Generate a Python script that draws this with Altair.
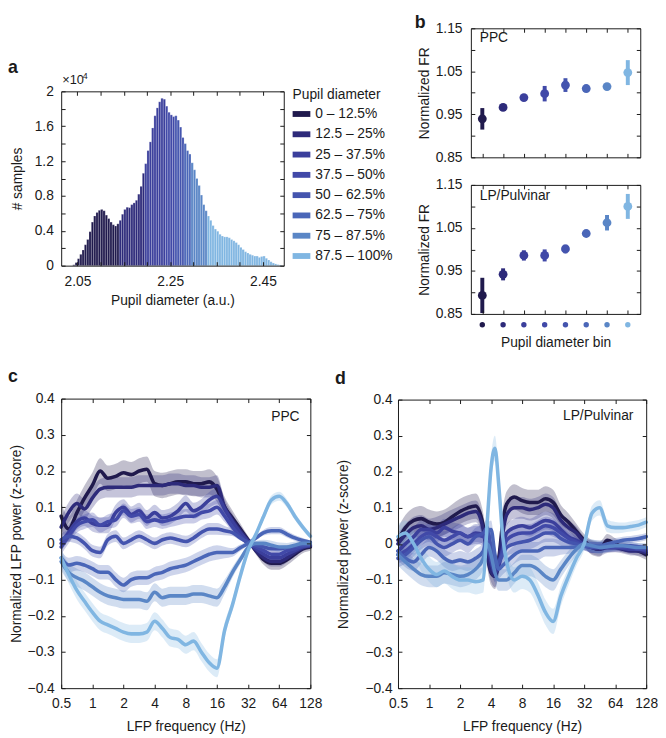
import json
import altair as alt
import numpy as np
import pandas as pd

FONT = "Liberation Sans"
INK = "#1a1a1a"
W, H = 650, 722   # whole drawing area (page pixels minus the 8px margin)

COLORS = ["#201a4d", "#2d2a7a", "#3b3f9c", "#4149a8", "#4454ae", "#4a66b8", "#5a86c6", "#80b6e2"]
GROUPS = ["0 – 12.5%", "12.5 – 25%", "25 – 37.5%", "37.5 – 50%",
          "50 – 62.5%", "62.5 – 75%", "75 – 87.5%", "87.5 – 100%"]

# ---------------- panel a : histogram (counts in units of 10^4) ----------------
HIST_START = 2.04
HIST_STEP = 0.005
HIST_COUNTS = [0.01, 0.035, 0.08, 0.13, 0.18, 0.24, 0.30, 0.39, 0.50, 0.57,
               0.61, 0.635, 0.645, 0.63, 0.58, 0.54, 0.50, 0.47, 0.455, 0.48,
               0.52, 0.59, 0.645, 0.67, 0.665, 0.70, 0.72, 0.75, 0.82, 0.91,
               1.06, 1.17, 1.32, 1.42, 1.58, 1.72, 1.81, 1.88, 1.92, 1.91,
               1.83, 1.76, 1.73, 1.71, 1.72, 1.67, 1.59, 1.47, 1.40, 1.32,
               1.28, 1.18, 1.10, 1.00, 0.92, 0.81, 0.70, 0.63, 0.57, 0.52,
               0.46, 0.42, 0.395, 0.36, 0.34, 0.33, 0.33, 0.32, 0.30, 0.285,
               0.265, 0.24, 0.21, 0.185, 0.16, 0.145, 0.13, 0.12, 0.11, 0.11,
               0.095, 0.105, 0.11, 0.085, 0.065, 0.045, 0.03, 0.02, 0.012, 0.008]
GROUP_EDGES = [2.142, 2.195, 2.24, 2.262, 2.28, 2.296, 2.331]
A_X_TICKS = [2.05, 2.10, 2.15, 2.20, 2.25, 2.30, 2.35, 2.40, 2.45]
A_X_LABELS = ["2.05", "2.25", "2.45"]
A_Y_TICKS = [0, 0.2, 0.4, 0.6, 0.8, 1.0, 1.2, 1.4, 1.6, 1.8, 2.0]
A_Y_LABELS = ["0", "0.4", "0.8", "1.2", "1.6", "2"]

# ---------------- panel b : firing rate per pupil bin ----------------
B_BINS = [1, 2, 3, 4, 5, 6, 7, 8]
PPC_MEAN = [0.9395, 0.966, 0.989, 0.998, 1.018, 1.010, 1.0145, 1.047]
PPC_ERR = [0.025, 0.008, 0.005, 0.018, 0.016, 0.005, 0.007, 0.029]
LP_MEAN = [0.893, 0.942, 0.986, 0.986, 1.001, 1.037, 1.062, 1.100]
LP_ERR = [0.041, 0.014, 0.012, 0.014, 0.010, 0.006, 0.018, 0.029]
B_Y_TICKS = [0.85, 0.90, 0.95, 1.00, 1.05, 1.10, 1.15]
B_Y_LABELS = ["0.85", "0.95", "1.05", "1.15"]

# ---------------- panel c : PPC LFP power ----------------
C_FREQ = [0.5, 0.59, 0.71, 0.84, 1.0, 1.19, 1.41, 1.68, 2.0, 2.38, 2.83, 3.36, 4.0,
          4.76, 5.66, 6.73, 8.0, 9.51, 11.3, 13.5, 16.0, 19.0, 22.6, 26.9, 32.0,
          38.1, 45.3, 53.8, 64.0, 76.1, 90.5, 108.0, 128.0]
C_L1 = [0.075, 0.04, 0.085, 0.125, 0.16, 0.2, 0.18, 0.185, 0.195, 0.19, 0.2, 0.205, 0.165,
        0.16, 0.165, 0.17, 0.17, 0.165, 0.165, 0.17, 0.15, 0.1, 0.07, 0.04, 0.01,
        -0.02, -0.045, -0.055, -0.055, -0.045, -0.03, -0.015, -0.01]
C_L2 = [0.045, 0.085, 0.11, 0.095, 0.125, 0.15, 0.155, 0.155, 0.155, 0.155, 0.16, 0.16, 0.16,
        0.16, 0.165, 0.165, 0.16, 0.16, 0.155, 0.155, 0.16, 0.1, 0.065, 0.035, 0.008,
        -0.02, -0.04, -0.05, -0.05, -0.04, -0.025, -0.012, -0.008]
C_L3 = [0.0, 0.03, 0.06, 0.07, 0.055, 0.05, 0.05, 0.085, 0.1, 0.08, 0.09, 0.07, 0.085,
        0.07, 0.075, 0.09, 0.11, 0.09, 0.1, 0.12, 0.13, 0.095, 0.06, 0.03, 0.005,
        -0.015, -0.03, -0.04, -0.04, -0.03, -0.02, -0.01, -0.005]
C_L4 = [-0.01, 0.02, 0.05, 0.06, 0.065, 0.05, 0.06, 0.065, 0.09, 0.075, 0.08, 0.06, 0.065,
        0.06, 0.065, 0.07, 0.075, 0.075, 0.085, 0.09, 0.1, 0.075, 0.045, 0.02, 0.0,
        -0.01, -0.02, -0.03, -0.03, -0.02, -0.015, -0.008, -0.005]
C_L5 = [0.01, 0.02, 0.015, 0.0, -0.02, -0.025, 0.01, 0.02, 0.0, 0.01, 0.02, 0.01, 0.0,
        0.01, 0.015, 0.01, 0.005, 0.015, 0.03, 0.04, 0.04, 0.035, 0.03, 0.015, 0.003,
        -0.005, -0.01, -0.015, -0.015, -0.012, -0.008, -0.005, -0.003]
C_L6 = [-0.04, -0.06, -0.055, -0.06, -0.07, -0.08, -0.08, -0.1, -0.115, -0.1, -0.095, -0.095, -0.085,
        -0.08, -0.07, -0.065, -0.06, -0.05, -0.04, -0.03, -0.025, -0.025, -0.025, -0.012, 0.0,
        0.015, 0.03, 0.035, 0.035, 0.025, 0.015, 0.008, 0.003]
C_L7 = [-0.05, -0.08, -0.095, -0.105, -0.12, -0.135, -0.145, -0.15, -0.155, -0.155, -0.155, -0.16, -0.135,
        -0.15, -0.145, -0.145, -0.145, -0.14, -0.14, -0.145, -0.15, -0.12, -0.08, -0.045, -0.012,
        0.0, 0.0, -0.005, -0.01, -0.01, -0.005, 0.0, 0.0]
C_L8 = [-0.04, -0.085, -0.13, -0.16, -0.19, -0.215, -0.225, -0.235, -0.245, -0.25, -0.25, -0.245, -0.215,
        -0.235, -0.26, -0.265, -0.28, -0.27, -0.3, -0.33, -0.345, -0.24, -0.17, -0.09, -0.02,
        0.025, 0.075, 0.12, 0.13, 0.11, 0.075, 0.045, 0.02]
C_BAND = [0.035, 0.028, 0.022, 0.02, 0.016, 0.02, 0.025, 0.025]
C_BAND_SCALE = [1.0] * 21 + [0.8, 0.6, 0.45, 0.3, 0.3, 0.4, 0.5, 0.5, 0.45, 0.4, 0.35, 0.3]

# ---------------- panel d : LP/Pulvinar LFP power ----------------
D_FREQ = [0.5, 0.59, 0.71, 0.84, 1.0, 1.19, 1.41, 1.68, 2.0, 2.38, 2.83, 3.36, 3.67, 4.0,
          4.36, 4.76, 5.19, 5.66, 6.73, 8.0, 9.51, 11.3, 13.5, 16.0, 19.0, 22.6, 26.9,
          32.0, 38.1, 45.3, 53.8, 64.0, 76.1, 90.5, 108.0, 128.0]
D_L1 = [0.01, 0.045, 0.065, 0.07, 0.06, 0.055, 0.06, 0.075, 0.09, 0.1, 0.105, 0.05, -0.03, -0.08,
        -0.09, -0.04, 0.06, 0.11, 0.13, 0.12, 0.115, 0.115, 0.125, 0.115, 0.08, 0.06, 0.035,
        0.01, -0.01, -0.015, 0.01, 0.0, -0.01, -0.015, -0.02, -0.03]
D_L2 = [0.0, 0.025, 0.045, 0.05, 0.04, 0.045, 0.055, 0.065, 0.075, 0.085, 0.09, 0.04, -0.03, -0.075,
        -0.09, -0.05, 0.03, 0.08, 0.1, 0.1, 0.095, 0.1, 0.11, 0.1, 0.065, 0.045, 0.03,
        0.005, -0.01, -0.015, -0.01, -0.01, -0.015, -0.02, -0.02, -0.025]
D_L3 = [-0.02, 0.0, 0.02, 0.04, 0.04, 0.03, 0.045, 0.035, 0.03, 0.02, 0.03, 0.025, 0.0, -0.05,
        -0.08, -0.06, -0.01, 0.03, 0.045, 0.05, 0.045, 0.055, 0.065, 0.06, 0.04, 0.02, 0.01,
        0.0, -0.01, -0.01, -0.01, -0.01, -0.012, -0.015, -0.015, -0.02]
D_L4 = [-0.03, -0.02, 0.0, 0.02, 0.03, 0.02, 0.01, 0.02, 0.03, 0.02, 0.025, 0.02, 0.0, -0.04,
        -0.07, -0.05, -0.02, 0.01, 0.025, 0.03, 0.03, 0.04, 0.05, 0.045, 0.03, 0.015, 0.005,
        -0.005, -0.01, -0.01, -0.01, -0.01, -0.01, -0.01, -0.015, -0.015]
D_L5 = [-0.04, -0.03, -0.01, 0.01, 0.02, 0.0, -0.01, 0.0, 0.01, 0.0, 0.02, 0.03, 0.045, -0.01,
        -0.06, -0.05, -0.03, -0.01, 0.0, 0.005, 0.01, 0.02, 0.03, 0.03, 0.015, 0.005, 0.0,
        -0.005, -0.01, -0.01, -0.008, -0.005, -0.005, -0.005, -0.008, -0.01]
D_L6 = [-0.02, -0.04, -0.05, -0.03, -0.01, -0.02, -0.04, -0.05, -0.045, -0.05, -0.04, -0.02, 0.03, 0.04,
        -0.03, -0.07, -0.06, -0.05, -0.03, -0.02, -0.02, -0.02, -0.01, -0.01, -0.01, -0.01, -0.008,
        -0.005, -0.005, -0.005, 0.0, 0.005, 0.01, 0.012, 0.015, 0.02]
D_L7 = [-0.03, -0.05, -0.07, -0.085, -0.09, -0.09, -0.08, -0.085, -0.09, -0.085, -0.07, -0.04, 0.0, -0.03,
        -0.08, -0.1, -0.1, -0.1, -0.08, -0.06, -0.06, -0.07, -0.09, -0.1, -0.07, -0.04, -0.015,
        0.0, -0.005, -0.01, -0.008, -0.005, -0.005, -0.008, -0.01, -0.01]
D_L8 = [0.02, 0.03, 0.0, -0.04, -0.07, -0.085, -0.075, -0.09, -0.1, -0.1, -0.105, -0.1, 0.06, 0.21,
        0.265, 0.16, 0.02, -0.05, -0.1, -0.09, -0.1, -0.14, -0.19, -0.215, -0.145, -0.09, -0.04,
        0.0, 0.085, 0.1, 0.05, 0.045, 0.045, 0.048, 0.052, 0.06]
D_BAND = [0.035, 0.03, 0.025, 0.025, 0.025, 0.025, 0.03, 0.035]
D_BAND_SCALE = [1.0] * 24 + [0.8, 0.7, 0.6, 0.5, 0.6, 0.6, 0.5, 0.45, 0.4, 0.4, 0.4, 0.4]

FREQ_TICKS = [0.5, 1, 2, 4, 8, 16, 32, 64, 128]
Z_TICKS = [-0.4, -0.3, -0.2, -0.1, 0, 0.1, 0.2, 0.3, 0.4]

ONE = pd.DataFrame({"k": [0]})


def label_axis(orient, values, fmt, offset, labels=True, show=None, title=None,
               title_pad=0, label_pad=7):
    kw = dict(orient=orient, values=values, format=fmt, labels=labels, ticks=False, tickSize=0,
              domain=False, grid=False, offset=offset, labelPadding=label_pad,
              labelFlush=False, labelOverlap=False,
              labelFont=FONT, labelFontSize=14, labelColor=INK,
              titleFont=FONT, titleFontSize=14, titleFontWeight="normal", titleColor=INK,
              titlePadding=title_pad, title=title)
    if show is not None:
        kw["labelExpr"] = "indexof(" + json.dumps(show) + ", datum.label) >= 0 ? datum.label : ''"
    return alt.Axis(**kw)


def tick_axis(orient, values, offset):
    return alt.Axis(orient=orient, values=values, labels=False, title=None, grid=False,
                    domain=True, domainColor=INK, domainWidth=1,
                    ticks=True, tickSize=4, tickColor=INK, tickWidth=1,
                    offset=offset, zindex=1)


def box_layers(df, xf, yf, xs, ys, xvals, yvals, left, right, top, bottom):
    """Inward ticks and the panel frame, drawn by four axes on the panel's own scales."""
    t1 = alt.Chart(df).mark_point(opacity=0).encode(
        x=alt.X(xf, scale=xs, axis=tick_axis("top", xvals, -bottom)),
        y=alt.Y(yf, scale=ys, axis=tick_axis("right", yvals, left - W)))
    t2 = alt.Chart(df).mark_point(opacity=0).encode(
        x=alt.X(xf, scale=xs, axis=tick_axis("bottom", xvals, top - H)),
        y=alt.Y(yf, scale=ys, axis=tick_axis("left", yvals, -right)))
    return [t1, t2]


def text_layer(text, x, y, size=14, weight="normal", align="left", baseline="middle"):
    return alt.Chart(ONE).mark_text(text=text, font=FONT, fontSize=size, fontWeight=weight,
                                    align=align, baseline=baseline, color=INK).encode(
        x=alt.value(x), y=alt.value(y))


COLOR_SCALE = alt.Scale(domain=GROUPS, range=COLORS)

# ---------- panel a ----------
A_L, A_R, A_T, A_B = 54, 280, 79, 256
idx = np.arange(len(HIST_COUNTS))
x0 = HIST_START + HIST_STEP * idx
hist_df = pd.DataFrame({
    "x0": x0,
    "x1": x0 + HIST_STEP,
    "count": HIST_COUNTS,
    "grp": [GROUPS[k] for k in np.searchsorted(GROUP_EDGES, x0 + HIST_STEP / 2)],
})
xs_a = alt.Scale(domain=[2.015, 2.495], range=[A_L, A_R], nice=False, zero=False)
ys_a = alt.Scale(domain=[0, 2], range=[A_B, A_T], nice=False, zero=False)
legend_a = alt.Legend(title="Pupil diameter", orient="none", legendX=289, legendY=76,
                      symbolType="M-1,-0.33L1,-0.33L1,0.33L-1,0.33Z", symbolSize=324,
                      symbolStrokeWidth=0, symbolOpacity=1,
                      labelFont=FONT, labelFontSize=14, labelColor=INK, labelOffset=5,
                      titleFont=FONT, titleFontSize=14, titleFontWeight="normal", titleColor=INK,
                      titlePadding=3, rowPadding=4.6, padding=0)
bars_a = alt.Chart(hist_df).mark_rect(stroke="white", strokeWidth=0.35, strokeOpacity=0.6).encode(
    x=alt.X("x0:Q", scale=xs_a,
            axis=label_axis("bottom", A_X_TICKS, ".2f", A_B - H, show=A_X_LABELS,
                            title="Pupil diameter (a.u.)", title_pad=5, label_pad=9)),
    x2="x1:Q",
    y=alt.Y("count:Q", scale=ys_a,
            axis=label_axis("left", A_Y_TICKS, ".1~f", -A_L, show=A_Y_LABELS,
                            title="# samples", title_pad=10, label_pad=8)),
    y2=alt.datum(0),
    color=alt.Color("grp:N", scale=COLOR_SCALE, legend=legend_a),
)
panel_a = alt.layer(
    bars_a,
    *box_layers(hist_df, "x0:Q", "count:Q", xs_a, ys_a, A_X_TICKS, A_Y_TICKS, A_L, A_R, A_T, A_B),
).resolve_axis(x="independent", y="independent")


# ---------- panel b ----------
def b_panel(mean, err, bottom, top_px, bottom_px):
    left, right = 470, 642
    df = pd.DataFrame({"bin": B_BINS, "mean": mean,
                       "lo": np.array(mean) - np.array(err),
                       "hi": np.array(mean) + np.array(err), "grp": GROUPS})
    xs = alt.Scale(domain=[0.45, 8.6], range=[left, right], nice=False, zero=False)
    ys = alt.Scale(domain=[0.85, 1.15], range=[bottom_px, top_px], nice=False, zero=False)
    col = alt.Color("grp:N", scale=COLOR_SCALE, legend=None)
    if bottom:
        xaxis = label_axis("bottom", B_BINS, "d", bottom_px - H, labels=False,
                           title="Pupil diameter bin", title_pad=22)
    else:
        xaxis = None
    yaxis = label_axis("left", B_Y_TICKS, ".2f", -left, show=B_Y_LABELS,
                       title="Normalized FR", title_pad=4, label_pad=9)
    errs = alt.Chart(df).mark_rule(strokeWidth=4).encode(
        x=alt.X("bin:Q", scale=xs, axis=xaxis),
        y=alt.Y("lo:Q", scale=ys, axis=yaxis), y2="hi:Q", color=col)
    dots = alt.Chart(df).mark_circle(size=80, opacity=1).encode(
        x=alt.X("bin:Q", scale=xs, axis=None), y=alt.Y("mean:Q", scale=ys, axis=None), color=col)
    layers = [errs, dots] + box_layers(df, "bin:Q", "mean:Q", xs, ys, B_BINS, B_Y_TICKS,
                                       left, right, top_px, bottom_px)
    if bottom:
        layers.append(alt.Chart(df).mark_circle(size=30, opacity=1).encode(
            x=alt.X("bin:Q", scale=xs, axis=None), y=alt.value(bottom_px + 11), color=col))
    return alt.layer(*layers).resolve_axis(x="independent", y="independent")


b_top = b_panel(PPC_MEAN, PPC_ERR, False, 15, 146)
b_bot = b_panel(LP_MEAN, LP_ERR, True, 174, 305)


# ---------- panels c, d ----------
def lfp_df(freqs, lines, bands, scale):
    rows = []
    for g, (vals, bw) in enumerate(zip(lines, bands)):
        for f, v, s in zip(freqs, vals, scale):
            rows.append({"freq": f, "val": v, "lo": v - bw * s, "hi": v + bw * s, "grp": GROUPS[g]})
    return pd.DataFrame(rows)


def lfp_panel(df, ytitle, ytitle_pad, ylabel_pad, left, right, top, bottom):
    xs = alt.Scale(type="log", base=2, domain=[0.5, 128], range=[left, right], nice=False)
    ys = alt.Scale(domain=[-0.4, 0.4], range=[bottom, top], nice=False, zero=False)
    col = alt.Color("grp:N", scale=COLOR_SCALE, legend=None)
    bands = alt.Chart(df).mark_area(opacity=0.28, interpolate="monotone").encode(
        x=alt.X("freq:Q", scale=xs,
                axis=label_axis("bottom", FREQ_TICKS, "~g", bottom - H,
                                title="LFP frequency (Hz)", title_pad=9, label_pad=9)),
        y=alt.Y("lo:Q", scale=ys, stack=None,
                axis=label_axis("left", Z_TICKS, ".1~f", -left, title=ytitle,
                                title_pad=ytitle_pad, label_pad=ylabel_pad)),
        y2="hi:Q", color=col)
    lines = alt.Chart(df).mark_line(strokeWidth=3.6, interpolate="monotone",
                                    strokeCap="round", strokeJoin="round").encode(
        x=alt.X("freq:Q", scale=xs, axis=None),
        y=alt.Y("val:Q", scale=ys, axis=None), color=col)
    return alt.layer(
        bands, lines,
        *box_layers(df, "freq:Q", "val:Q", xs, ys, FREQ_TICKS, Z_TICKS, left, right, top, bottom),
    ).resolve_axis(x="independent", y="independent")


df_c = lfp_df(C_FREQ, [C_L1, C_L2, C_L3, C_L4, C_L5, C_L6, C_L7, C_L8], C_BAND, C_BAND_SCALE)
df_d = lfp_df(D_FREQ, [D_L1, D_L2, D_L3, D_L4, D_L5, D_L6, D_L7, D_L8], D_BAND, D_BAND_SCALE)

panel_c = lfp_panel(df_c, "Normalized LFP power (z-score)", 4, 7, 54, 307, 391, 685)
panel_d = lfp_panel(df_d, "Normalized power (z-score)", 15, 6, 396, 648, 392, 685)

texts = [
    text_layer("a", 0, 60, size=18, weight="bold", baseline="alphabetic"),
    text_layer("×10", 55, 72, size=13, baseline="alphabetic"),
    text_layer("4", 76, 66, size=9, baseline="alphabetic"),
    text_layer("b", 413, 15, size=18, weight="bold", baseline="alphabetic"),
    text_layer("PPC", 479, 25),
    text_layer("LP/Pulvinar", 479, 185),
    text_layer("c", 0, 374, size=18, weight="bold", baseline="alphabetic"),
    text_layer("PPC", 296, 410, align="right"),
    text_layer("d", 332, 376, size=18, weight="bold", baseline="alphabetic"),
    text_layer("LP/Pulvinar", 635, 409, align="right"),
]

chart = alt.layer(panel_a, b_top, b_bot, panel_c, panel_d, *texts).resolve_scale(
    x="independent", y="independent"
).resolve_axis(
    x="independent", y="independent"
).properties(width=W, height=H, padding=0).configure(font=FONT).configure_view(
    stroke="transparent")

chart.save("out.html", embed_options={"renderer": "svg", "actions": False})
